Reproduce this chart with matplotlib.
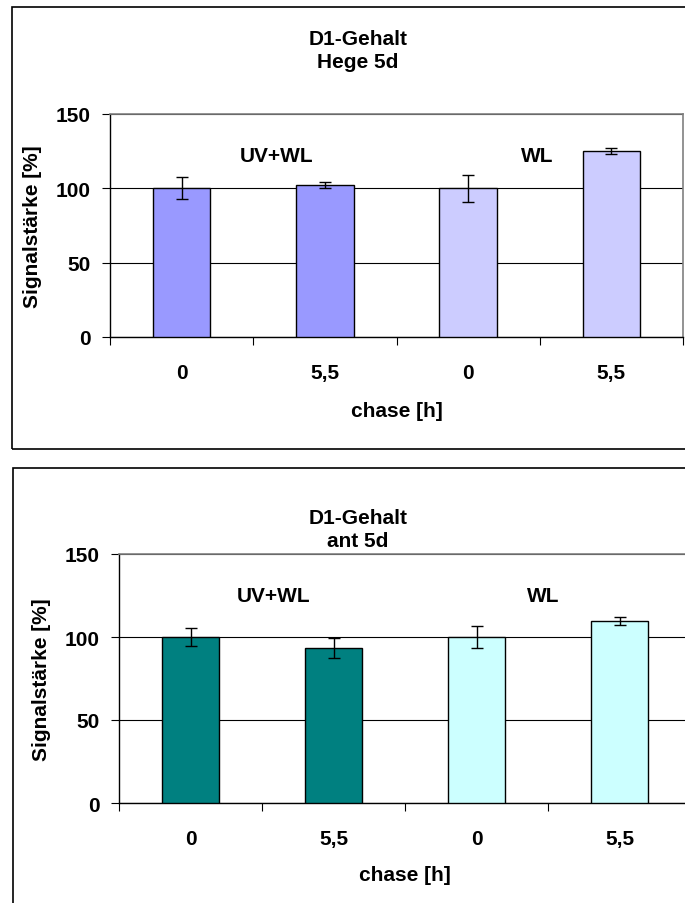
import matplotlib
matplotlib.use("Agg")
import matplotlib.pyplot as plt
from matplotlib.patches import Rectangle

plt.rcParams['font.family'] = ['Liberation Sans', 'DejaVu Sans']
plt.rcParams['font.weight'] = 'bold'

W, H = 685, 904

# data
chase_labels = ['0', '5,5', '0', '5,5']
hege_values = [100, 102, 100, 125]
hege_errors = [7.5, 2, 9, 2]
hege_colors = ['#9999FF', '#9999FF', '#CCCCFF', '#CCCCFF']
ant_values = [100, 93.4, 100, 109.8]
ant_errors = [5.4, 6, 6.4, 2.5]
ant_colors = ['#008080', '#008080', '#CCFFFF', '#CCFFFF']
group_labels = ['UV+WL', 'WL']


def px(x, y):
    return x / W, 1 - y / H


def draw_panel(fig, rect, values, errors, colors, title, label_pos, frame, title_y, ylabel_x, xlabel_y):
    # outer chart frame
    fx, fy, fw, fh = frame
    fig.patches.append(Rectangle((fx / W, 1 - (fy + fh) / H), fw / W, fh / H,
                                 transform=fig.transFigure, fill=False,
                                 edgecolor='black', linewidth=1.2))
    ax = fig.add_axes(rect)
    x = list(range(len(values)))
    ax.bar(x, values, width=0.4, color=colors, edgecolor='black', linewidth=1.0, zorder=3)
    ax.errorbar(x, values, yerr=errors, fmt='none', ecolor='black', elinewidth=1.0,
                capsize=4.5, capthick=1.0, zorder=4)
    ax.set_xlim(-0.5, len(values) - 0.5)
    ax.set_ylim(0, 150)
    ax.set_yticks([0, 50, 100, 150])
    ax.yaxis.grid(True, color='black', linewidth=0.8, zorder=0)
    ax.set_axisbelow(True)
    ax.set_xticks([i + 0.5 for i in range(-1, len(values))])
    ax.set_xticklabels([])
    ax.set_xticks(x, minor=True)
    ax.set_xticklabels(chase_labels, minor=True, fontsize=15, fontweight='bold')
    ax.tick_params(axis='x', which='major', direction='out', length=6, width=0.8)
    ax.tick_params(axis='x', which='minor', length=0, pad=19)
    ax.tick_params(axis='y', direction='out', length=6, width=0.8, pad=8, labelsize=15)
    for lab in ax.get_yticklabels():
        lab.set_fontweight('bold')
    for s in ['top', 'right']:
        ax.spines[s].set_color('#808080')
        ax.spines[s].set_linewidth(1.2)
    for s in ['left', 'bottom']:
        ax.spines[s].set_color('black')
        ax.spines[s].set_linewidth(1.0)
    for txt, (lx, ly) in zip(group_labels, label_pos):
        ax.text(lx, ly, txt, ha='center', va='center', fontsize=15, fontweight='bold')

    tx, ty = px(358, title_y)
    fig.text(tx, ty, title, ha='center', va='center', fontsize=15, fontweight='bold',
             linespacing=1.3)
    cx = (rect[0] + rect[2] / 2)
    fig.text(ylabel_x / W, rect[1] + rect[3] / 2, 'Signalstärke [%]', rotation=90,
             ha='center', va='center', fontsize=15, fontweight='bold')
    fig.text(cx, 1 - xlabel_y / H, 'chase [h]', ha='center', va='center',
             fontsize=15, fontweight='bold')
    return ax


fig = plt.figure(figsize=(W / 100, H / 100), dpi=100)

draw_panel(fig, [110 / W, 1 - 338 / H, 573 / W, 223 / H],
           hege_values, hege_errors, hege_colors, 'D1-Gehalt\nHege 5d',
           [(0.665, 122), (2.48, 122)], (12, 8, 700, 442), 51, 33, 412)

draw_panel(fig, [119 / W, 1 - 804 / H, 572 / W, 249 / H],
           ant_values, ant_errors, ant_colors, 'D1-Gehalt\nant 5d',
           [(0.584, 124.7), (2.465, 124.7)], (13, 469, 700, 460), 530, 42, 876)

fig.savefig('out.png', dpi=100)
